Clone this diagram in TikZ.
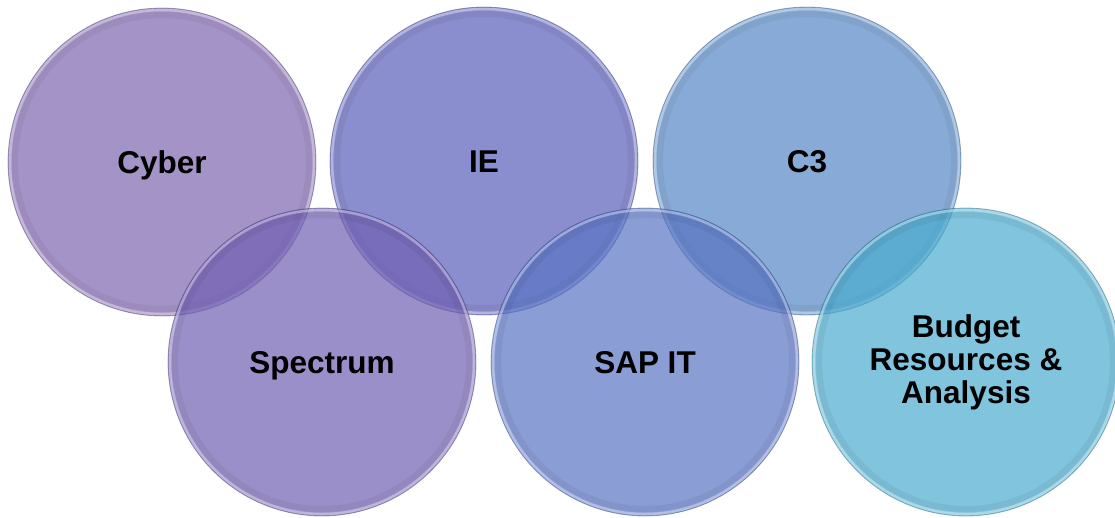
\documentclass[tikz,border=0pt]{standalone}
\usepackage{fontspec}
\setmainfont{Liberation Sans}
\definecolor{cyberc}{RGB}{126,101,174}
\definecolor{iec}{RGB}{89,94,186}
\definecolor{cthreec}{RGB}{84,136,196}
\definecolor{specc}{RGB}{112,95,178}
\definecolor{sapc}{RGB}{88,115,195}
\definecolor{budc}{RGB}{74,171,206}
\begin{document}
\begin{tikzpicture}[x=1pt,y=-1pt]
\tikzset{
  bubble/.style={circle, minimum size=308pt, inner sep=0pt, fill opacity=0.7,
    text opacity=1, draw opacity=0.35, line width=0.8pt,
    font=\fontsize{31.5}{33}\selectfont\bfseries, align=center},
  oneline/.style={text height=23pt, text depth=0pt},
  rim/.style={white, opacity=0.35, line width=2.5pt},
  shade/.style={black, opacity=0.05, line width=6pt}
}
\useasboundingbox (0,0) rectangle (1115,517);
\node[bubble, oneline, fill=cyberc, draw=cyberc!40!black] (cyber) at (162,162) {Cyber};
\draw[shade] (cyber.center) circle (147pt);
\draw[rim] (cyber.center) circle (152pt);
\node[bubble, oneline, fill=iec, draw=iec!40!black] (ie) at (484,161) {IE};
\draw[shade] (ie.center) circle (147pt);
\draw[rim] (ie.center) circle (152pt);
\node[bubble, oneline, fill=cthreec, draw=cthreec!40!black] (c3) at (807,161) {C3};
\draw[shade] (c3.center) circle (147pt);
\draw[rim] (c3.center) circle (152pt);
\node[bubble, oneline, fill=specc, draw=specc!40!black] (spec) at (322,362) {Spectrum};
\draw[shade] (spec.center) circle (147pt);
\draw[rim] (spec.center) circle (152pt);
\node[bubble, oneline, fill=sapc, draw=sapc!40!black] (sap) at (645,362) {SAP IT};
\draw[shade] (sap.center) circle (147pt);
\draw[rim] (sap.center) circle (152pt);
\node[bubble, fill=budc, draw=budc!40!black] (bud) at (966,362) {Budget\\Resources \&\\Analysis};
\draw[shade] (bud.center) circle (147pt);
\draw[rim] (bud.center) circle (152pt);
\end{tikzpicture}
\end{document}
